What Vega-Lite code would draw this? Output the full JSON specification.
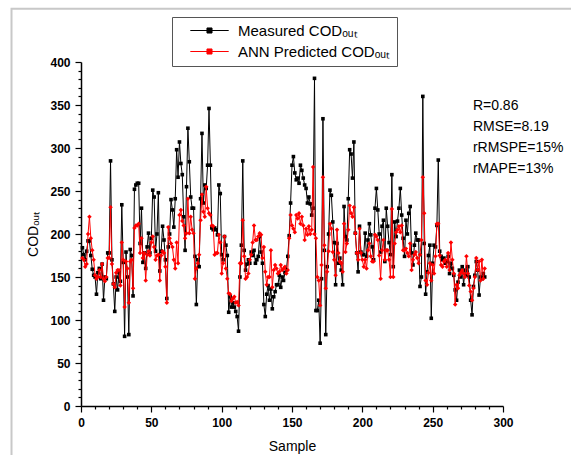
{
  "$schema": "https://vega.github.io/schema/vega-lite/v6.json",
  "width": 422,
  "height": 344,
  "autosize": {"type": "none"},
  "padding": {"left": 81, "top": 62, "right": 68, "bottom": 49},
  "background": "white",
  "config": {
    "font": "Liberation Sans",
    "view": {"stroke": null},
    "axis": {
      "grid": false,
      "domainColor": "black",
      "domainWidth": 1.5,
      "tickColor": "black",
      "tickWidth": 1.2,
      "labelFont": "Liberation Sans",
      "labelFontSize": 12,
      "labelFontWeight": "bold",
      "labelColor": "black",
      "titleFont": "Liberation Sans",
      "titleFontSize": 14,
      "titleFontWeight": "normal",
      "titleColor": "black"
    }
  },
  "resolve": {"axis": {"x": "independent", "y": "independent"}},
  "layer": [
    {
      "data": {"name": "cod"},
      "transform": [
        {"fold": ["m", "p"], "as": ["series", "value"]},
        {"filter": "datum.series === 'm'"}
      ],
      "mark": {"type": "line", "color": "black", "strokeWidth": 1, "point": {"shape": "square", "size": 13, "filled": true}},
      "encoding": {
        "x": {
          "field": "s", "type": "quantitative", "title": "Sample",
          "scale": {"domain": [0, 300], "nice": false},
          "axis": {
            "orient": "bottom",
            "values": [0, 50, 100, 150, 200, 250, 300],
            "tickSize": 6,
            "labelPadding": 5,
            "titlePadding": 11,
            "labelFlush": false,
            "labelOverlap": false
          }
        },
        "y": {
          "field": "value", "type": "quantitative", "title": "CODₒᵤₜ",
          "scale": {"domain": [0, 400], "nice": false},
          "axis": {
            "orient": "left",
            "values": [0, 50, 100, 150, 200, 250, 300, 350, 400],
            "tickSize": 6,
            "labelPadding": 5,
            "titlePadding": 9,
            "labelFlush": false,
            "labelOverlap": false
          }
        },
        "color": {
          "field": "series", "type": "nominal",
          "scale": {"domain": ["m", "p"], "range": ["#000000", "#ff0000"]},
          "legend": {
            "orient": "none",
            "legendX": 91,
            "legendY": -45,
            "title": null,
            "labelExpr": "datum.value === 'm' ? 'Measured CODₒᵤₜ' : 'ANN Predicted CODₒᵤₜ'",
            "labelFont": "Liberation Sans",
            "labelFontSize": 15,
            "labelColor": "black",
            "symbolSize": 144,
            "symbolType": "M-3.2,0H3.2M-0.42,-0.42H0.42V0.42H-0.42Z",
            "symbolStrokeWidth": 1,
            "symbolOffset": 24,
            "labelOffset": 21,
            "padding": 6,
            "rowPadding": 5,
            "strokeColor": "#555555",
            "fillColor": "white",
            "encoding": {
              "symbols": {
                "update": {
                  "shape": {"signal": "datum.value === 'm' ? 'M-3.2,0H3.2M-0.42,-0.42H0.42V0.42H-0.42Z' : 'M-3.2,0H3.2M0,-0.5L0.5,0L0,0.5L-0.5,0Z'"},
                  "fill": {"signal": "datum.value === 'm' ? '#000000' : '#ff0000'"},
                  "stroke": {"signal": "datum.value === 'm' ? '#000000' : '#ff0000'"},
                  "opacity": {"value": 1}
                }
              }
            }
          }
        }
      }
    },
    {
      "data": {"name": "cod"},
      "transform": [
        {"fold": ["m", "p"], "as": ["series", "value"]},
        {"filter": "datum.series === 'p'"}
      ],
      "mark": {"type": "line", "color": "#ff0000", "strokeWidth": 1, "point": {"shape": "diamond", "size": 20, "filled": true}},
      "encoding": {
        "x": {
          "field": "s", "type": "quantitative",
          "axis": {
            "orient": "bottom",
            "values": [10,20,30,40,60,70,80,90,110,120,130,140,160,170,180,190,210,220,230,240,260,270,280,290],
            "tickSize": 3,
            "labels": false,
            "domain": false,
            "title": null
          }
        },
        "y": {
          "field": "value", "type": "quantitative",
          "axis": {
            "orient": "left",
            "values": [10,20,30,40,60,70,80,90,110,120,130,140,160,170,180,190,210,220,230,240,260,270,280,290,310,320,330,340,360,370,380,390],
            "tickSize": 3,
            "labels": false,
            "domain": false,
            "title": null
          }
        },
        "color": {"field": "series", "type": "nominal"}
      }
    },
    {
      "data": {"values": [{}]},
      "mark": {"type": "rect", "filled": false, "stroke": "#c8c8c8", "strokeWidth": 2, "clip": false},
      "encoding": {
        "x": {"datum": -49.4, "type": "quantitative", "axis": null},
        "x2": {"datum": 420},
        "y": {"datum": 462, "type": "quantitative", "axis": null},
        "y2": {"datum": -120}
      }
    },
    {
      "data": {"values": [{}]},
      "mark": {"type": "text", "text": ["R=0.86", "RMSE=8.19", "rRMSPE=15%", "rMAPE=13%"], "align": "left", "baseline": "top", "fontSize": 14, "lineHeight": 21.3, "font": "Liberation Sans", "color": "black", "clip": false},
      "encoding": {
        "x": {"datum": 278.6, "type": "quantitative", "axis": null},
        "y": {"datum": 357.5, "type": "quantitative", "axis": null}
      }
    }
  ],
  "datasets": {
    "cod": [
      {"s":1,"m":184,"p":172},{"s":2,"m":176,"p":170},{"s":3,"m":170,"p":162},{"s":4,"m":180,"p":165},{"s":5,"m":192,"p":200},
      {"s":6,"m":192,"p":220},{"s":7,"m":175,"p":195},{"s":8,"m":159,"p":181},{"s":9,"m":152,"p":170},{"s":10,"m":150,"p":152},
      {"s":11,"m":130,"p":148},{"s":12,"m":155,"p":150},{"s":13,"m":160,"p":158},{"s":14,"m":148,"p":150},{"s":15,"m":165,"p":165},
      {"s":16,"m":123,"p":148},{"s":17,"m":150,"p":145},{"s":18,"m":148,"p":150},{"s":19,"m":178,"p":172},{"s":20,"m":178,"p":172},
      {"s":21,"m":285,"p":231},{"s":22,"m":170,"p":165},{"s":23,"m":142,"p":142},{"s":24,"m":110,"p":138},{"s":25,"m":150,"p":155},
      {"s":26,"m":135,"p":158},{"s":27,"m":155,"p":158},{"s":28,"m":145,"p":140},{"s":29,"m":234,"p":190},{"s":30,"m":167,"p":170},
      {"s":31,"m":81,"p":115},{"s":32,"m":179,"p":168},{"s":33,"m":150,"p":160},{"s":34,"m":83,"p":120},{"s":35,"m":182,"p":168},
      {"s":36,"m":175,"p":170},{"s":37,"m":128,"p":137},{"s":38,"m":252,"p":207},{"s":39,"m":257,"p":210},{"s":40,"m":259,"p":210},
      {"s":41,"m":259,"p":212},{"s":42,"m":189,"p":178},{"s":43,"m":230,"p":195},{"s":44,"m":167,"p":172},{"s":45,"m":178,"p":178},
      {"s":46,"m":160,"p":146},{"s":47,"m":185,"p":176},{"s":48,"m":201,"p":180},{"s":49,"m":178,"p":175},{"s":50,"m":195,"p":190},
      {"s":51,"m":251,"p":197},{"s":52,"m":243,"p":185},{"s":53,"m":180,"p":170},{"s":54,"m":200,"p":175},{"s":55,"m":248,"p":176},
      {"s":56,"m":157,"p":146},{"s":57,"m":180,"p":175},{"s":58,"m":209,"p":180},{"s":59,"m":193,"p":178},{"s":60,"m":170,"p":162},
      {"s":61,"m":125,"p":120},{"s":62,"m":185,"p":208},{"s":63,"m":200,"p":195},{"s":64,"m":240,"p":189},{"s":65,"m":228,"p":185},
      {"s":66,"m":208,"p":170},{"s":67,"m":241,"p":160},{"s":68,"m":298,"p":190},{"s":69,"m":266,"p":166},{"s":70,"m":307,"p":222},
      {"s":71,"m":282,"p":228},{"s":72,"m":269,"p":215},{"s":73,"m":220,"p":210},{"s":74,"m":181,"p":195},{"s":75,"m":255,"p":201},
      {"s":76,"m":323,"p":241},{"s":77,"m":284,"p":201},{"s":78,"m":243,"p":220},{"s":79,"m":230,"p":205},{"s":80,"m":230,"p":201},
      {"s":81,"m":174,"p":148},{"s":82,"m":118,"p":160},{"s":83,"m":170,"p":166},{"s":84,"m":162,"p":176},{"s":85,"m":241,"p":216},
      {"s":86,"m":317,"p":246},{"s":87,"m":236,"p":226},{"s":88,"m":257,"p":220},{"s":89,"m":253,"p":255},{"s":90,"m":280,"p":230},
      {"s":91,"m":346,"p":224},{"s":92,"m":280,"p":222},{"s":93,"m":207,"p":210},{"s":94,"m":205,"p":209},{"s":95,"m":207,"p":176},
      {"s":96,"m":205,"p":178},{"s":97,"m":199,"p":178},{"s":98,"m":257,"p":199},{"s":99,"m":247,"p":190},{"s":100,"m":176,"p":154},
      {"s":101,"m":170,"p":166},{"s":102,"m":197,"p":197},{"s":103,"m":187,"p":160},{"s":104,"m":175,"p":148},{"s":105,"m":109,"p":131},
      {"s":106,"m":127,"p":130},{"s":107,"m":115,"p":122},{"s":108,"m":120,"p":125},{"s":109,"m":115,"p":127},{"s":110,"m":110,"p":120},
      {"s":111,"m":104,"p":121},{"s":112,"m":87,"p":117},{"s":113,"m":150,"p":166},{"s":114,"m":187,"p":166},{"s":115,"m":285,"p":216},
      {"s":116,"m":181,"p":174},{"s":117,"m":158,"p":148},{"s":118,"m":165,"p":150},{"s":119,"m":170,"p":154},{"s":120,"m":166,"p":170},
      {"s":121,"m":179,"p":176},{"s":122,"m":175,"p":190},{"s":123,"m":181,"p":210},{"s":124,"m":166,"p":193},{"s":125,"m":170,"p":193},
      {"s":126,"m":174,"p":197},{"s":127,"m":197,"p":201},{"s":128,"m":179,"p":199},{"s":129,"m":166,"p":172},{"s":130,"m":118,"p":185},
      {"s":131,"m":104,"p":156},{"s":132,"m":130,"p":141},{"s":133,"m":140,"p":150},{"s":134,"m":123,"p":150},{"s":135,"m":136,"p":181},
      {"s":136,"m":113,"p":138},{"s":137,"m":127,"p":158},{"s":138,"m":133,"p":164},{"s":139,"m":141,"p":160},{"s":140,"m":141,"p":154},
      {"s":141,"m":152,"p":156},{"s":142,"m":138,"p":164},{"s":143,"m":150,"p":158},{"s":144,"m":146,"p":160},{"s":145,"m":155,"p":162},
      {"s":146,"m":158,"p":154},{"s":147,"m":174,"p":158},{"s":148,"m":198,"p":195},{"s":149,"m":236,"p":222},{"s":150,"m":280,"p":210},
      {"s":151,"m":290,"p":206},{"s":152,"m":271,"p":202},{"s":153,"m":263,"p":222},{"s":154,"m":265,"p":218},{"s":155,"m":259,"p":224},
      {"s":156,"m":280,"p":212},{"s":157,"m":274,"p":220},{"s":158,"m":265,"p":210},{"s":159,"m":257,"p":193},{"s":160,"m":253,"p":206},
      {"s":161,"m":236,"p":199},{"s":162,"m":243,"p":209},{"s":163,"m":235,"p":200},{"s":164,"m":222,"p":205},{"s":165,"m":230,"p":278},
      {"s":166,"m":381,"p":200},{"s":167,"m":111,"p":195},{"s":168,"m":111,"p":150},{"s":169,"m":123,"p":146},{"s":170,"m":73,"p":117},
      {"s":171,"m":148,"p":164},{"s":172,"m":334,"p":266},{"s":173,"m":181,"p":187},{"s":174,"m":83,"p":137},{"s":175,"m":162,"p":156},
      {"s":176,"m":200,"p":180},{"s":177,"m":251,"p":212},{"s":178,"m":245,"p":206},{"s":179,"m":214,"p":179},{"s":180,"m":190,"p":170},
      {"s":181,"m":141,"p":152},{"s":182,"m":189,"p":205},{"s":183,"m":166,"p":178},{"s":184,"m":172,"p":168},{"s":185,"m":158,"p":166},
      {"s":186,"m":141,"p":156},{"s":187,"m":232,"p":212},{"s":188,"m":197,"p":179},{"s":189,"m":193,"p":189},{"s":190,"m":241,"p":205},
      {"s":191,"m":298,"p":233},{"s":192,"m":293,"p":224},{"s":193,"m":265,"p":220},{"s":194,"m":307,"p":231},{"s":195,"m":201,"p":201},
      {"s":196,"m":178,"p":178},{"s":197,"m":156,"p":170},{"s":198,"m":209,"p":206},{"s":199,"m":179,"p":178},{"s":200,"m":176,"p":170},
      {"s":201,"m":176,"p":162},{"s":202,"m":201,"p":170},{"s":203,"m":174,"p":160},{"s":204,"m":193,"p":181},{"s":205,"m":212,"p":189},
      {"s":206,"m":199,"p":174},{"s":207,"m":185,"p":168},{"s":208,"m":170,"p":168},{"s":209,"m":230,"p":199},{"s":210,"m":253,"p":197},
      {"s":211,"m":228,"p":193},{"s":212,"m":200,"p":175},{"s":213,"m":179,"p":148},{"s":214,"m":209,"p":181},{"s":215,"m":216,"p":193},
      {"s":216,"m":168,"p":170},{"s":217,"m":230,"p":181},{"s":218,"m":209,"p":181},{"s":219,"m":190,"p":170},{"s":220,"m":176,"p":150},
      {"s":221,"m":269,"p":229},{"s":222,"m":162,"p":150},{"s":223,"m":214,"p":189},{"s":224,"m":197,"p":202},{"s":225,"m":215,"p":205},
      {"s":226,"m":230,"p":209},{"s":227,"m":253,"p":202},{"s":228,"m":222,"p":210},{"s":229,"m":195,"p":181},{"s":230,"m":174,"p":181},
      {"s":231,"m":216,"p":183},{"s":232,"m":200,"p":178},{"s":233,"m":224,"p":174},{"s":234,"m":232,"p":189},{"s":235,"m":178,"p":158},
      {"s":236,"m":164,"p":170},{"s":237,"m":187,"p":176},{"s":238,"m":201,"p":179},{"s":239,"m":193,"p":172},{"s":240,"m":193,"p":166},
      {"s":241,"m":139,"p":176},{"s":242,"m":150,"p":193},{"s":243,"m":360,"p":266},{"s":244,"m":189,"p":224},{"s":245,"m":130,"p":146},
      {"s":246,"m":156,"p":141},{"s":247,"m":175,"p":155},{"s":248,"m":187,"p":166},{"s":249,"m":102,"p":146},{"s":250,"m":166,"p":164},
      {"s":251,"m":187,"p":154},{"s":252,"m":185,"p":174},{"s":253,"m":210,"p":212},{"s":254,"m":286,"p":212},{"s":255,"m":180,"p":175},
      {"s":256,"m":174,"p":164},{"s":257,"m":170,"p":162},{"s":258,"m":172,"p":168},{"s":259,"m":166,"p":170},{"s":260,"m":168,"p":162},
      {"s":261,"m":174,"p":178},{"s":262,"m":154,"p":158},{"s":263,"m":166,"p":190},{"s":264,"m":160,"p":170},{"s":265,"m":152,"p":154},
      {"s":266,"m":135,"p":118},{"s":267,"m":123,"p":141},{"s":268,"m":144,"p":137},{"s":269,"m":158,"p":152},{"s":270,"m":150,"p":155},
      {"s":271,"m":162,"p":158},{"s":272,"m":141,"p":154},{"s":273,"m":158,"p":150},{"s":274,"m":152,"p":174},{"s":275,"m":162,"p":154},
      {"s":276,"m":150,"p":140},{"s":277,"m":123,"p":133},{"s":278,"m":106,"p":123},{"s":279,"m":139,"p":137},{"s":280,"m":152,"p":150},
      {"s":281,"m":168,"p":172},{"s":282,"m":158,"p":158},{"s":283,"m":129,"p":168},{"s":284,"m":150,"p":146},{"s":285,"m":148,"p":170},
      {"s":286,"m":154,"p":148},{"s":287,"m":150,"p":160}
    ]
  }
}
